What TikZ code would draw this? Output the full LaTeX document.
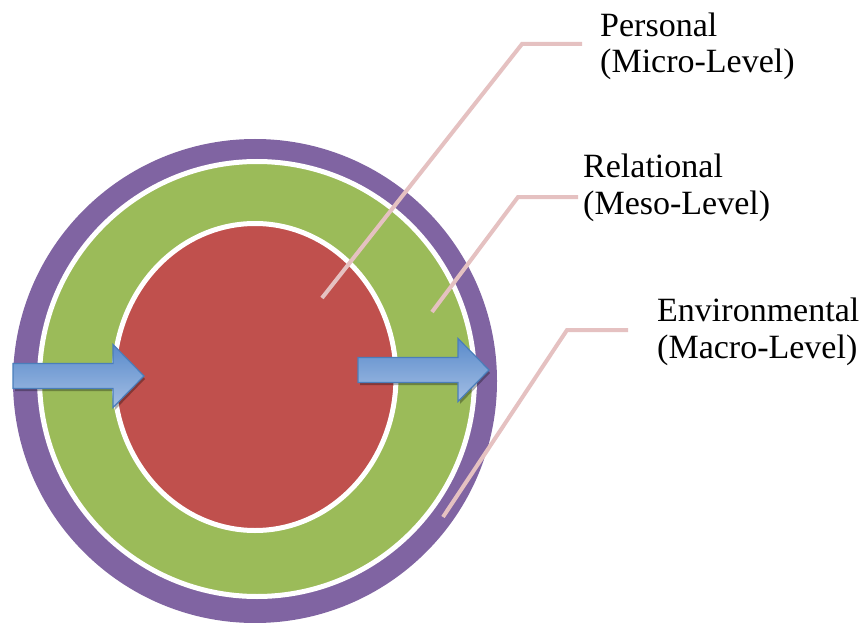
\documentclass[tikz,border=0pt]{standalone}
\usepackage{fontspec}
\setmainfont{Liberation Serif}
\definecolor{ringpurple}{HTML}{8064A2}
\definecolor{ringgreen}{HTML}{9BBB59}
\definecolor{corered}{HTML}{C0504D}
\definecolor{arrowtop}{HTML}{5A8BCB}
\definecolor{arrowbot}{HTML}{A3BEE4}
\definecolor{arrowline}{HTML}{4A7EBB}
\definecolor{calloutpink}{RGB}{229,193,193}
\tikzset{
  levellabel/.style={anchor=base west,inner sep=0pt,align=left,font=\fontsize{34}{36.7}\selectfont},
  callout/.style={calloutpink,line width=4pt}
}
\begin{document}
\begin{tikzpicture}[x=1pt,y=-1pt]
			\useasboundingbox[fill=white] (0,0) rectangle (865,623);
			\fill[ringpurple] (255,381) circle[radius=242];
			\fill[ringgreen,draw=white,line width=5pt] (257,379) circle[radius=217.5];
			\fill[corered,draw=white,line width=5pt] (255,377) ellipse[x radius=141,y radius=153.5];
			% arrows
			\foreach \x/\y in {13/376,358/370}{
				\fill[black,opacity=0.3] (\x+2,\y-9)--++(100,0)--++(0,-19)--++(30,31)--++(-30,31)--++(0,-19)--++(-100,0)--cycle;
				\path[draw=arrowline,line width=1.2pt,top color=arrowtop,bottom color=arrowbot] (\x,\y-12.5)--++(100,0)--++(0,-19)--++(31,31.5)--++(-31,31.5)--++(0,-19)--++(-100,0)--cycle;
			}
			% labels
			\node[levellabel] (micro) at (600,73) {Personal\\(Micro-Level)};
			\node[levellabel] (meso) at (583,214) {Relational\\(Meso-Level)};
			\node[levellabel] (macro) at (657,358) {Environmental\\(Macro-Level)};
			\coordinate (microA) at (322,298); \coordinate (microB) at (522,44); \coordinate (microC) at (582,44);
			\coordinate (mesoA) at (432,312); \coordinate (mesoB) at (518,197); \coordinate (mesoC) at (578,197);
			\coordinate (macroA) at (443,517); \coordinate (macroB) at (567,330); \coordinate (macroC) at (628,330);
			\draw[callout] (microA)--(microB)--(microC);
			\draw[callout] (mesoA)--(mesoB)--(mesoC);
			\draw[callout] (macroA)--(macroB)--(macroC);
		\end{tikzpicture}
\end{document}
